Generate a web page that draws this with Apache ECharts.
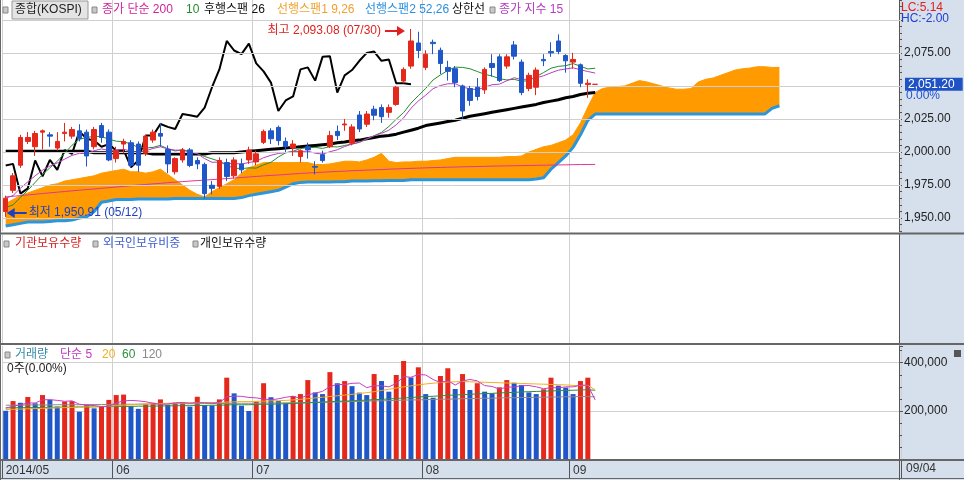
<!DOCTYPE html>
<html><head><meta charset="utf-8">
<script src="https://cdn.jsdelivr.net/npm/echarts@6/dist/echarts.min.js"></script>
<style>html,body{margin:0;padding:0;background:#fff}#c{width:964px;height:480px}</style>
</head><body><div id="c"></div><script>
// ---------------- DATA ----------------
const dates = [
 '2014/05/12','2014/05/13','2014/05/14','2014/05/15','2014/05/16','2014/05/19','2014/05/20','2014/05/21','2014/05/22','2014/05/23',
 '2014/05/26','2014/05/27','2014/05/28','2014/05/29','2014/05/30',
 '2014/06/02','2014/06/03','2014/06/05','2014/06/09','2014/06/10','2014/06/11','2014/06/12','2014/06/13','2014/06/16','2014/06/17',
 '2014/06/18','2014/06/19','2014/06/20','2014/06/23','2014/06/24','2014/06/25','2014/06/26','2014/06/27','2014/06/30',
 '2014/07/01','2014/07/02','2014/07/03','2014/07/04','2014/07/07','2014/07/08','2014/07/09','2014/07/10','2014/07/11','2014/07/14',
 '2014/07/15','2014/07/16','2014/07/17','2014/07/18','2014/07/21','2014/07/22','2014/07/23','2014/07/24','2014/07/25','2014/07/28',
 '2014/07/29','2014/07/30','2014/07/31',
 '2014/08/01','2014/08/04','2014/08/05','2014/08/06','2014/08/07','2014/08/08','2014/08/11','2014/08/12','2014/08/13','2014/08/14',
 '2014/08/18','2014/08/19','2014/08/20','2014/08/21','2014/08/22','2014/08/25','2014/08/26','2014/08/27','2014/08/28','2014/08/29',
 '2014/09/01','2014/09/02','2014/09/03','2014/09/04'
];
const opens = [1955,1971,1990,2008,2004,2015,2013,2003,2014,2012, 2016,2015,2004,2020,2015,1995,2006,2007,2006,1999,
 2009,2014,2002,1985,1994,2001.6,1993.6,1990.6,1974.8,1974, 1992,1982,1991,1994,1992.5,2007.3,2016,2018.6,2008,2003,
 1996.6,2004,1989,1998,2004,2015.6,2020.5,2006.6,2028,2021, 2032.4,2033.6,2030,2036,2053.7,2065,2082.5,2064,2083,2077,
 2064,2063,2050,2048,2049,2047,2067,2072,2065,2081, 2068,2048,2049,2070,2076,2084,2073,2068,2066,2051, 2051.2];
const highs = [1967,1984,2013,2015,2016,2017,2015,2015,2022,2019, 2021,2017,2019,2022,2017,2004,2010,2009,2008,2013,
 2017,2022,2005,1996,2003,2003,1996,1992,1978,1996, 1995,1996,1995,2004,2001,2017,2018,2020,2011,2009,
 2002,2007,1993,2001,2016,2020,2025,2021,2031,2031, 2035,2036,2036,2050,2064,2093.08,2091,2077,2085,2079,
 2069,2065,2051,2050,2056,2064,2074,2074,2074,2084, 2070,2060,2064,2074,2083,2089,2074,2075,2067,2055, 2051.2];
const lows = [1950.91,1969,1988,2006,1997,2002,2004,2001,2008,2010, 2008,1989,2002,2007,1993,1992,1999,1988,1985,1997,
 2007,2004,1984,1983,1992,1988.5,1987,1964.8,1968,1972, 1978,1980,1984,1991,1990,2006,2006,2005,2000,1997,
 1992,1995,1983,1992,2003,2009,2016,2005,2015,2019, 2024,2022,2026,2035,2052,2063,2071,2062,2074,2059,
 2054,2049,2025,2035,2039,2044,2057,2053,2063,2070, 2043,2046,2043,2065,2072,2074,2060,2063,2049,2041, 2051.2];
const closes = [1965,1982,2011,2011,2014,2016,2012,2008,2015,2017, 2010,1997,2017,2011,1994,2001,2008,1990,1990,2012,
 2015,2012,1991,1995,2001.6,1989.8,1991,1968.5,1972.5,1993.6, 1981.5,1994,1986.5,2001.5,1998.6,2015.6,2010,2008.6,2004,2006,
 2001,2001.6,1988.5,1993.5,2012.4,2012.4,2021.2,2019,2017.4,2028.7, 2027.8,2026.7,2033.6,2049,2062.5,2084,2076.8,2074,2082,2067,
 2061,2052.5,2031,2039,2042,2062.5,2064,2054,2072,2072.5, 2045,2058,2062,2069,2075,2076,2069,2070,2052,2052, 2051.2];
const volumes = [201000,241000,234000,258000,232000,266000,246000,218000,239000,241000,
 197000,225000,211000,218000,246000,266000,268000,221000,209000,228000,
 234000,248000,225000,234000,236000,218000,259000,225000,223000,248000,
 338000,273000,222000,200000,239000,315000,257000,241000,232000,262000,
 270000,328000,277000,270000,361000,315000,324000,303000,276000,266000,
 353000,324000,280000,349000,407000,339000,381000,270000,255000,345000,
 377000,291000,353000,287000,315000,280000,273000,298000,328000,317000,
 308000,277000,270000,290000,338000,305000,297000,270000,324000,338000, 0];
// price indicators
const ma10 = [1958,1960,1965.7,1971,1977,1983,1988,1993,1999,2005.1, 2009.6,2011.1,2011.7,2011.7,2009.7,2008.2,2007.8,2006,2003.5,2003,
 2003.5,2005,2002.4,2000.8,2001.6,2000.4,1998.7,1996.6,1994.8,1993, 1989.7,1987.9,1987.4,1988,1987.8,1990.3,1992.2,1996.2,1999.4,2000.6,
 2002.6,2003.3,2003.5,2002.7,2004.1,2003.8,2004.9,2006,2007.3,2009.6, 2012.3,2014.8,2019.3,2024.8,2029.8,2037,2042.6,2048.1,2054.5,2058.3,
 2061.7,2064.2,2064,2063,2060.9,2058.8,2057.5,2055.5,2054.5,2055, 2053.5,2054,2057.1,2060.1,2063.4,2064.8,2065.3,2066.9,2064.9,2062.8, 2063.4];
const ema15 = [1965,1967.1,1972.6,1977.4,1982,1986.2,1989.4,1991.7,1994.6,1997.4, 1999,1998.7,2001,2002.3,2001.3,2001.3,2002.1,2000.6,1999.3,2000.9,
 2002.7,2003.9,2002.3,2001.4,2001.4,1999.9,1998.8,1995,1992.2,1992.4, 1991,1991.4,1990.8,1992.1,1992.9,1995.7,1997.5,1998.9,1999.5,2000.3,
 2000.4,2000.6,1999.1,1998.4,2000.2,2001.7,2004.1,2006,2007.4,2010.1, 2012.3,2014.1,2016.5,2020.6,2025.8,2033.1,2038.6,2043,2047.9,2050.3,
 2051.6,2051.7,2049.1,2047.8,2047.1,2049,2050.9,2051.3,2053.9,2056.2, 2054.8,2055.2,2056.1,2057.7,2059.9,2061.9,2062.8,2063.7,2062.2,2060.9, 2059.7];
const ma200 = [1966,1966.5,1967,1967.5,1968,1968.6,1969.1,1969.6,1970.1,1970.6, 1971.1,1971.6,1972,1972.5,1973,1973.5,1974,1974.5,1975,1975.4,
 1975.9,1976.3,1976.8,1977.2,1977.6,1978,1978.4,1978.7,1979.1,1979.5, 1979.9,1980.3,1980.7,1981.1,1981.5,1981.9,1982.3,1982.6,1983,1983.4,
 1983.8,1984.1,1984.4,1984.7,1985,1985.3,1985.5,1985.8,1986,1986.3, 1986.5,1986.7,1987,1987.2,1987.4,1987.6,1987.8,1988,1988.2,1988.3,
 1988.5,1988.6,1988.8,1988.9,1989,1989.1,1989.3,1989.4,1989.5,1989.6, 1989.7,1989.8,1989.9,1990,1990.1,1990.2,1990.3,1990.4,1990.5,1990.55, 1990.6];
const upperLine = [2000.5,2000.5,2000.5,2000.5,2000.5,2000.5,2000.5,2000.5,2000.5,2000.5, 2000.5,2000.5,1999.5,1999.5,1999.5,1999.5,1999.5,1999.5,1999.5,1999.5,
 1998.5,1998.5,1998.5,1998.5,1998.5,1998.5,1998.5,1998.5,1999.5,1999.5, 1999.5,1999.5,2000,2000.5,2001,2001.5,2002,2002.5,2003,2003.5,
 2004,2004.5,2005,2005.5,2006,2007,2007.5,2008.5,2009,2010, 2011,2012,2012.5,2013.5,2015,2016.5,2018,2020,2021,2022,
 2023,2024,2025.5,2027,2028,2029,2030,2031,2032,2033, 2034,2035,2036,2037.5,2038.5,2039.5,2041,2042,2043.5,2044.5, 2045];
const span1 = [1961,1964,1967,1969,1971,1973,1975,1976,1978,1979, 1980,1981,1982,1984,1985,1986,1987,1985,1985,1984,
 1985,1987,1983,1979,1975,1971,1968,1966,1970,1973, 1976,1979,1984,1988,1990,1992,1992,1992,1992,1992,
 1992,1992,1990.5,1990.5,1991,1992,1993,1993,1992.5,1994, 1996,1999,1993,1992,1992.5,1992.5,1993,1993,1993.5,1994,
 1995,1996,1996,1996,1996,1996,1996,1996,1996.5,1996.5, 1997,2000,2002,2004,2005,2007,2009,2013,2022,2034,
 2045,2048,2049,2049.5,2050,2052,2054,2053,2051.5,2050, 2048.5,2047.5,2047.5,2048,2053,2055,2056,2058,2060,2062,
 2063,2063.5,2064.5,2064.5,2064,2064];
const span2 = [1944,1945,1946,1947,1947,1947,1947.5,1948,1948,1948.5, 1950,1951,1955,1962,1963,1964,1964,1964,1964.5,1964.5,
 1964.5,1964.5,1964.5,1964.8,1964.8,1964.8,1964.8,1964.8,1964.8,1964.8, 1964.8,1964.8,1965.5,1967,1968,1969,1970,1971,1973.5,1976,
 1977,1977.3,1977.3,1977.3,1977.3,1977.5,1977.5,1978,1978,1978, 1978.3,1978.3,1978.5,1978.5,1978.5,1979,1979,1979,1979,1979,
 1979,1979,1979,1979,1979,1979,1979,1979,1979,1979, 1979,1979,1979.5,1980.5,1987,1992,1997,2003.5,2013,2024,
 2028.7,2028.7,2028.7,2028.7,2028.7,2028.7,2028.7,2028.7,2028.7,2028.7, 2028.7,2028.7,2028.7,2028.7,2028.7,2028.7,2028.7,2028.7,2028.7,2028.7,
 2028.7,2028.7,2028.7,2028.7,2033,2035];
// volume averages
const volMa5 = [212000,220000,226000,233000,233200,246200,247200,244000,240200,242000, 228200,224000,222600,218400,219400,233200,241800,243800,242000,238400,
 232000,228000,228800,233800,235400,232200,234400,234400,232200,234600, 258600,261400,260800,256200,254400,249800,246600,250400,256800,261400,
 252400,266600,273800,281400,301200,310200,309400,314600,315800,296800, 304400,304400,299800,314400,342600,339800,351200,349200,330400,318000,
 325600,307600,324200,330600,324600,305200,301600,290600,298800,299200, 304800,305600,300000,292400,296600,296000,300000,300000,306800,306800, 245800];
const volMa20 = [206000,207000,208000,209000,210000,211000,212000,213000,214000,215000, 216000,217000,218000,219000,220000,222000,224000,226000,228000,229000,
 230000,231000,232000,233000,233000,234000,234000,234000,235000,235000, 237000,238000,239000,239000,240000,241000,242000,243000,244000,246000,
 248000,251000,254000,257000,260000,263000,266000,269000,272000,276000, 280000,285000,290000,295000,300000,304000,308000,312000,315000,318000,
 320000,321000,322000,321000,320000,319000,318000,317000,316000,315000, 314000,313000,312000,311000,310000,309000,308000,306000,305000,306000, 288000];
const volMa60 = [213000,213000,214000,214000,214000,215000,215000,216000,216000,216000, 217000,217000,217000,218000,218000,219000,219000,219000,220000,220000,
 220000,221000,221000,222000,222000,222000,223000,223000,224000,224000, 225000,226000,226000,226000,227000,228000,228000,229000,230000,231000,
 233000,234000,235000,237000,238000,240000,241000,242000,244000,245000, 247000,248000,250000,252000,254000,256000,258000,260000,261000,263000,
 265000,266000,268000,269000,271000,272000,273000,275000,276000,277000, 279000,280000,281000,282000,283000,284000,285000,286000,287000,288000, 286000];
const volMa120 = [224000,224000,224000,225000,225000,225000,225000,226000,226000,226000, 226000,227000,227000,227000,227000,228000,228000,228000,228000,229000,
 229000,229000,229000,230000,230000,230000,230000,231000,231000,231000, 231000,232000,232000,232000,232000,233000,233000,233000,234000,234000,
 234000,235000,236000,236000,237000,238000,238000,239000,240000,241000, 242000,242000,243000,244000,245000,246000,246000,247000,248000,249000,
 249000,250000,251000,251000,252000,253000,253000,254000,255000,255000, 256000,256000,257000,257000,258000,258000,259000,259000,260000,260000, 258000];
const priceGridLevels = [1950, 1975, 2000, 2025, 2050, 2075, 2100];
const laggingShift = 25;   // 후행스팬 26 (current bar counted)
const totalSlots = 122;    // bars + future slots for the leading spans

// ---------------- CHART ----------------
const RED = '#e4281c', BLUE = '#1f57c8';
const FONT = "'Liberation Sans','Noto Sans CJK KR',sans-serif";
const cats = dates.slice();
for (let i = dates.length; i < totalSlots; i++) cats.push('F' + i);
const isMonthStart = (i) => i < dates.length && (i === 0 || dates[i].slice(5, 7) !== dates[i - 1].slice(5, 7));
const candleData = opens.map((o, i) => [o, closes[i], lows[i], highs[i]]);
const kumoDiff = span1.map((v, i) => +(v - span2[i]).toFixed(2));
const lagging = closes.slice(laggingShift);
const fmt2 = v => v.toLocaleString('en-US', {minimumFractionDigits: 2, maximumFractionDigits: 2});
const fmt0 = v => v.toLocaleString('en-US');

const xBase = (gi, extra) => Object.assign({
  type: 'category', gridIndex: gi, data: cats, boundaryGap: true,
  axisLine: {show: false}, axisTick: {show: false}, axisLabel: {show: false},
  splitLine: {show: true, interval: (i) => isMonthStart(i), lineStyle: {color: '#d0d0d0', width: 1}}
}, extra || {});

const chart = echarts.init(document.getElementById('c'), null, {renderer: 'canvas'});
const lineS = (name, data, color, width, extra) => Object.assign({
  name, type: 'line', xAxisIndex: 0, yAxisIndex: 0, data, symbol: 'none', silent: true,
  lineStyle: {color, width}, z: 3
}, extra || {});

chart.setOption({
  animation: false,
  textStyle: {fontFamily: FONT},
  grid: [
    {left: 2, width: 899, top: -1.5, height: 232.8},
    {left: 2, width: 899, top: 235, height: 108},
    {left: 2, width: 899, top: 345.8, height: 113.5}
  ],
  xAxis: [
    xBase(0),
    xBase(1),
    xBase(2, {
      axisLine: {show: true, lineStyle: {color: '#555', width: 1}},
      axisTick: {show: true, interval: (i) => isMonthStart(i), length: 19, lineStyle: {color: '#555'}},
      axisLabel: {show: true, interval: (i) => isMonthStart(i), align: 'left', margin: 5,
        color: '#333', fontSize: 12, fontFamily: FONT,
        formatter: (v, i) => i === 0 ? v.slice(0, 7) : v.slice(5, 7)}
    })
  ],
  yAxis: [
    {type: 'value', gridIndex: 0, position: 'right', offset: -2, min: 1940, max: 2115, interval: 5,
     axisLine: {show: true, lineStyle: {color: '#555'}},
     axisTick: {show: true, length: 3, lineStyle: {color: '#555'}},
     splitLine: {show: false},
     axisLabel: {color: '#222', fontSize: 12, fontFamily: FONT, margin: 5,
       formatter: v => (v % 25 === 0 && v !== 2050 && v !== 2100) ? fmt2(v) : ''}},
    {type: 'value', gridIndex: 1, position: 'right', offset: -2, min: 0, max: 1,
     axisLine: {show: true, lineStyle: {color: '#555'}}, axisTick: {show: false},
     axisLabel: {show: false}, splitLine: {show: false}},
    {type: 'value', gridIndex: 2, position: 'right', offset: -2, min: 0, max: 470000, interval: 200000,
     axisLine: {show: true, lineStyle: {color: '#555'}},
     axisTick: {show: true, length: 4, lineStyle: {color: '#555'}},
     minorTick: {show: true, splitNumber: 4, length: 3, lineStyle: {color: '#555'}},
     splitLine: {show: true, showMinLine: false, showMaxLine: false, lineStyle: {color: '#d0d0d0'}},
     axisLabel: {color: '#222', fontSize: 12, fontFamily: FONT, margin: 5,
       formatter: v => (v > 0 && v % 200000 === 0) ? fmt0(v) : ''}}
  ],
  series: [
    // Ichimoku cloud: base (span2) + fill up to span1
    lineS('kumoBase', span2, 'rgba(0,0,0,0)', 0, {stack: 'kumo', z: 1,
      markLine: {silent: true, symbol: 'none', label: {show: false},
        lineStyle: {color: '#cfcfcf', width: 1, type: 'solid'},
        data: priceGridLevels.map(v => ({yAxis: v}))}}),
    lineS('kumoFill', kumoDiff, '#ff9a00', 1, {stack: 'kumo', z: 2,
      areaStyle: {color: '#ff9a00', opacity: 1}}),
    lineS('선행스팬2', span2, '#2b96dc', 3, {z: 3}),
    lineS('종가 단순 200', ma200, '#e0359a', 1),
    lineS('상한선', upperLine, '#000', 3),
    lineS('후행스팬', lagging, '#000', 2),
    lineS('10', ma10, '#1f8f2a', 1),
    lineS('종가 지수 15', ema15, '#b93cc4', 1),
    {
      name: '종합', type: 'candlestick', xAxisIndex: 0, yAxisIndex: 0, data: candleData, z: 5,
      barWidth: 5, silent: true,
      itemStyle: {color: RED, color0: BLUE, borderColor: RED, borderColor0: BLUE, borderColorDoji: RED, borderWidth: 1},
      markPoint: {
        silent: true,
        data: [
          {type: 'max', valueDim: 'highest', symbol: 'path://M0,4L12,4L12,0L20,5L12,10L12,6L0,6Z',
           symbolSize: [20, 10], symbolOffset: [-16, 2], itemStyle: {color: '#e02020'},
           label: {show: true, position: 'left', distance: 4, color: '#e02020', fontSize: 12, fontFamily: FONT,
             formatter: p => '최고 ' + fmt2(p.value) + ' (' + dates[highs.indexOf(p.value)].slice(5) + ')'}},
          {type: 'min', valueDim: 'lowest', symbol: 'path://M20,4L8,4L8,0L0,5L8,10L8,6L20,6Z',
           symbolSize: [20, 10], symbolOffset: [11, -4], itemStyle: {color: '#1d3fc4'},
           label: {show: true, position: 'right', distance: 2, color: '#1d3fc4', fontSize: 12, fontFamily: FONT,
             formatter: p => '최저 ' + fmt2(p.value) + ' (' + dates[lows.indexOf(p.value)].slice(5) + ')'}}
        ]
      },
      markLine: {
        silent: true, symbol: 'none', lineStyle: {color: 'rgba(0,0,0,0)', width: 0},
        data: [{yAxis: closes[closes.length - 1]}],
        label: {show: true, position: 'end', distance: 4, formatter: p => fmt2(p.value),
          backgroundColor: '#1f52c4', color: '#fff', fontSize: 12, fontFamily: FONT, padding: [1, 8, 0, 3]}
      }
    },
    // volume
    {name: '거래량', type: 'bar', xAxisIndex: 2, yAxisIndex: 2, data: volumes, barWidth: 5, silent: true,
     itemStyle: {color: p => (p.dataIndex > 0 && volumes[p.dataIndex] > volumes[p.dataIndex - 1]) ? RED : BLUE}},
    lineS('v120', volMa120, '#8a8a8a', 1, {xAxisIndex: 2, yAxisIndex: 2, z: 4}),
    lineS('v60', volMa60, '#2a9040', 1, {xAxisIndex: 2, yAxisIndex: 2, z: 4}),
    lineS('v20', volMa20, '#f0b020', 1, {xAxisIndex: 2, yAxisIndex: 2, z: 4}),
    lineS('v5', volMa5, '#c83cc0', 1, {xAxisIndex: 2, yAxisIndex: 2, z: 4})
  ],
  graphic: (function () {
    const g = [];
    const BG = '#d6e0ed';
    const txt = (x, y, text, fill, extra) => g.push(Object.assign({type: 'text', z: 100, silent: true,
      style: {x, y, text, fill, font: '12px ' + FONT, verticalAlign: 'middle'}}, extra || {}));
    const rect = (x, y, w, h, fill, stroke, z) => g.push({type: 'rect', z: z === undefined ? 100 : z, silent: true,
      shape: {x, y, width: w, height: h}, style: {fill, stroke: stroke || null, lineWidth: 1}});
    const line = (x1, y1, x2, y2, c, w, z) => g.push({type: 'line', z: z === undefined ? 100 : z, silent: true,
      shape: {x1, y1, x2, y2}, style: {stroke: c, lineWidth: w || 1}});
    // axis area and date band backgrounds
    rect(899, 0, 65, 461, BG, null, -10);
    rect(0, 460, 964, 20, BG, null, -10);
    // cover main-axis ticks spilling into middle panel
    rect(899.5, 233, 64.5, 112, BG, null, 50);
    line(899.5, 233, 899.5, 345, '#555', 1, 51);
    // panel separators
    line(0, 233.5, 964, 233.5, '#666', 2);
    line(0, 344, 964, 344, '#666', 2);
    line(0, 460, 964, 460, '#666', 2);
    line(0, 478.5, 964, 478.5, '#666', 1);
    line(0.5, 0, 0.5, 480, '#666', 1);
    line(899.5, 460, 899.5, 480, '#555', 1);
    // main legend
    rect(3, 7, 5, 6, '#c8c8c8', '#888');
    rect(12, 1, 76, 18, '#e4e4e4', '#999');
    txt(15, 10, '종합(KOSPI)', '#222');
    rect(92, 7, 5, 6, '#c8c8c8', '#888');
    txt(102, 10, '종가 단순 200', '#d0239a');
    txt(186, 10, '10', '#1f8f2a');
    txt(204, 10, '후행스팬 26', '#111');
    txt(277, 10, '선행스팬1 9,26', '#f0a030');
    txt(365, 10, '선행스팬2 52,26', '#2a8fe0');
    txt(452, 10, '상한선', '#111');
    rect(490, 7, 5, 6, '#c8c8c8', '#888');
    txt(499, 10, '종가 지수 15', '#b43cc0');
    // right top
    txt(901, 8, 'LC:5.14', '#e02020');
    txt(901, 19, 'HC:-2.00', '#2040d0');
    txt(906, 96, '0.00%', '#2050d0');
    // middle legend
    rect(4, 241, 5, 6, '#c8c8c8', '#888');
    txt(15, 244, '기관보유수량', '#d42020');
    rect(93, 241, 5, 6, '#c8c8c8', '#888');
    txt(103, 244, '외국인보유비중', '#3f5fd0');
    rect(193, 241, 5, 6, '#c8c8c8', '#888');
    txt(200, 244, '개인보유수량', '#111');
    // volume legend
    rect(5, 352, 5, 6, '#c8c8c8', '#888');
    txt(15, 355, '거래량', '#3a8aa8');
    txt(60, 355, '단순 5', '#c038c0');
    txt(102, 355, '20', '#f0b020');
    txt(122, 355, '60', '#2a9040');
    txt(142, 355, '120', '#888');
    txt(7, 369, '0주(0.00%)', '#222');
    rect(954, 350, 7, 7, '#555', null);
    // last date in band
    txt(906, 469, '09/04', '#333');
    return g;
  })()
});
</script></body></html>
